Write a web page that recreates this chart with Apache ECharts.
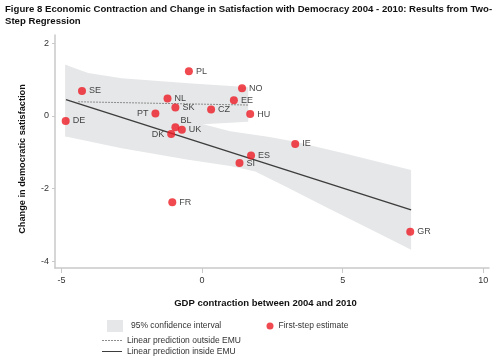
<!DOCTYPE html>
<html>
<head>
<meta charset="utf-8">
<script src="https://cdn.jsdelivr.net/npm/echarts@6/dist/echarts.min.js"></script>
<style>html,body{margin:0;padding:0;background:#fff;}#c{width:500px;height:359px;}</style>
</head>
<body>
<div id="c"></div>
<script>
// ---- data ----
const countries = ['PL','SE','DE','NL','SK','PT','CZ','NO','EE','HU','BL','UK','DK','SI','ES','IE','GR','FR'];
const gdpContraction = [-0.47,-4.27,-4.85,-1.23,-0.95,-1.66,0.32,1.42,1.13,1.71,-0.95,-0.72,-1.10,1.33,1.74,3.31,7.40,-1.06];
const satisfactionChange = [1.23,0.69,-0.14,0.48,0.23,0.07,0.18,0.76,0.43,0.05,-0.31,-0.38,-0.50,-1.30,-1.09,-0.77,-3.19,-2.38];

const insideLineX = [-4.84, 7.43];
const insideLineY = [0.45, -2.59];
const outsideLineX = [-4.41, 1.64];
const outsideLineY = [0.39, 0.30];

const outsideTopX = [-4.87, -4.05, -2.86, -0.49, 1.29, 1.64];
const outsideTopY = [1.41, 1.18, 1.04, 0.90, 0.81, 0.80];
const outsideBotX = [-4.87, -2.0, 0.04, 1.64];
const outsideBotY = [-0.57, -0.45, -0.23, -0.16];

const insideTopX = [-4.85, -2.86, -1.0, 0.04, 1.0, 2.4, 3.31, 5.0, 7.43];
const insideTopY = [1.42, 0.60, 0.10, -0.23, -0.42, -0.58, -0.71, -1.02, -1.49];
const insideBotX = [-4.85, -2.86, -0.49, 1.0, 1.89, 3.0, 4.5, 6.0, 7.43];
const insideBotY = [-0.57, -0.89, -1.21, -1.38, -1.53, -1.96, -2.55, -3.13, -3.69];

const xTicks = [-5, 0, 5, 10];
const yTicks = [-4, -2, 0, 2];

// ---- build ----
const FONT = "'Liberation Sans', Arial, sans-serif";
const pairs = (xs, ys) => xs.map((x, i) => [x, ys[i]]);
function polygon(topX, topY, botX, botY) {
  return pairs(topX, topY).concat(pairs(botX, botY).reverse());
}
const labelStyle = { PT: { position: 'left' }, DK: { position: 'left' }, BL: { position: 'right', distance: 1, offset: [0, -7] } };
const points = countries.map((c, i) => {
  const extra = labelStyle[c] || {};
  return { name: c, value: [gdpContraction[i], satisfactionChange[i]], label: Object.assign({}, extra) };
});

function bandRender(verts) {
  return function (params, api) {
    if (params.dataIndex !== 0) return null;
    const pts = verts.map(v => api.coord(v));
    return { type: 'polygon', shape: { points: pts }, style: { fill: '#e6e7e8' }, silent: true };
  };
}
const outsideBand = polygon(outsideTopX, outsideTopY, outsideBotX, outsideBotY);
const insideBand = polygon(insideTopX, insideTopY, insideBotX, insideBotY);

// legend line icons (drawn as filled paths)
const dashIcon = 'path://M0,0h2v1h-2z M3,0h2v1h-2z M6,0h2v1h-2z M9,0h2v1h-2z M12,0h2v1h-2z M15,0h2v1h-2z M18,0h2v1h-2z';
const solidIcon = 'path://M0,0h20v1h-20z';

const chart = echarts.init(document.getElementById('c'));
const legendText = { fontSize: 8.5, color: '#333', fontFamily: FONT };
chart.setOption({
  animation: false,
  backgroundColor: '#fff',
  title: {
    text: 'Figure 8 Economic Contraction and Change in Satisfaction with Democracy 2004 - 2010: Results from Two-\nStep Regression',
    left: 5, top: 3, padding: 0,
    textStyle: { fontSize: 9.6, fontWeight: 'bold', color: '#111', fontFamily: FONT, lineHeight: 12 }
  },
  grid: { left: 55, right: 11, top: 35, bottom: 91 },
  xAxis: {
    type: 'value', min: -5.23, max: 10.2,
    name: 'GDP contraction between 2004 and 2010', nameLocation: 'middle', nameGap: 30,
    nameTextStyle: { fontSize: 9.5, fontWeight: 'bold', color: '#111', fontFamily: FONT, padding: [0, 13, 0, 0] },
    axisLine: { onZero: false, lineStyle: { color: '#c9c9c9', width: 1.5 } },
    axisTick: { show: true, length: 5, lineStyle: { color: '#c9c9c9' }, customValues: xTicks },
    axisLabel: { customValues: xTicks, fontSize: 9, color: '#333', fontFamily: FONT, margin: 8 },
    splitLine: { show: false }
  },
  yAxis: {
    type: 'value', min: -4.19, max: 2.23,
    name: 'Change in democratic satisfaction', nameLocation: 'middle', nameGap: 28,
    nameTextStyle: { fontSize: 9.2, fontWeight: 'bold', color: '#111', fontFamily: FONT, padding: [0, 15, 0, 0] },
    axisLine: { show: true, onZero: false, lineStyle: { color: '#c9c9c9', width: 1.5 } },
    axisTick: { show: true, length: 3, lineStyle: { color: '#c9c9c9' }, customValues: yTicks },
    axisLabel: { customValues: yTicks, fontSize: 9, color: '#333', fontFamily: FONT, margin: 6 },
    splitLine: { show: false }
  },
  legend: [
    { left: 107, top: 320, padding: 0, selectedMode: false, itemWidth: 16, itemHeight: 12, itemGap: 0,
      data: [{ name: '95% confidence interval', icon: 'rect', itemStyle: { color: '#e6e7e8' } }],
      textStyle: Object.assign({ padding: [0, 0, 0, 3] }, legendText) },
    { left: 102, top: 336, padding: 0, selectedMode: false, itemWidth: 20, itemHeight: 1,
      data: [{ name: 'Linear prediction outside EMU', icon: dashIcon, itemStyle: { color: '#8c8c8c' } }], textStyle: legendText },
    { left: 102, top: 347, padding: 0, selectedMode: false, itemWidth: 20, itemHeight: 1.5,
      data: [{ name: 'Linear prediction inside EMU', icon: solidIcon, itemStyle: { color: '#3d3d3d' } }], textStyle: legendText },
    { left: 266.5, top: 321.5, padding: 0, selectedMode: false, itemWidth: 7, itemHeight: 7,
      data: [{ name: 'First-step estimate', icon: 'circle' }], textStyle: legendText }
  ],
  series: [
    { type: 'custom', name: '95% confidence interval', renderItem: bandRender(outsideBand), data: outsideBand,
      itemStyle: { color: '#e6e7e8' }, z: 1, silent: true },
    { type: 'custom', name: '95% confidence interval', renderItem: bandRender(insideBand), data: insideBand,
      itemStyle: { color: '#e6e7e8' }, z: 1, silent: true },
    { type: 'line', name: 'Linear prediction outside EMU', data: pairs(outsideLineX, outsideLineY), symbol: 'none',
      lineStyle: { color: '#8c8c8c', width: 1, type: [2, 1] }, itemStyle: { color: '#8c8c8c' }, z: 2 },
    { type: 'line', name: 'Linear prediction inside EMU', data: pairs(insideLineX, insideLineY), symbol: 'none',
      lineStyle: { color: '#3d3d3d', width: 1.4 }, itemStyle: { color: '#3d3d3d' }, z: 3 },
    { type: 'scatter', name: 'First-step estimate', data: points, symbolSize: 8,
      itemStyle: { color: '#ec1c24' }, z: 4,
      label: { show: true, position: 'right', distance: 3, formatter: '{b}', fontSize: 9, color: '#111', fontFamily: FONT } }
  ]
});
</script>
</body>
</html>
